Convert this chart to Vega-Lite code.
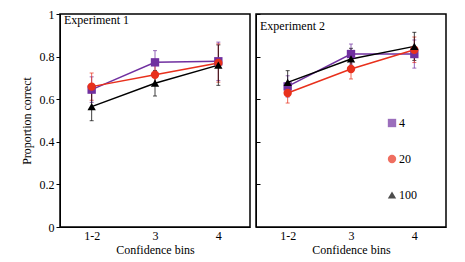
{
  "$schema": "https://vega.github.io/schema/vega-lite/v6.json",
  "padding": {"left": 19, "top": 7, "right": 2, "bottom": 2},
  "datasets": {
    "d": [
      {"exp": 1, "bin": "1-2", "n": "4", "p": 0.645, "se": 0.06},
      {"exp": 1, "bin": "3", "n": "4", "p": 0.773, "se": 0.055},
      {"exp": 1, "bin": "4", "n": "4", "p": 0.778, "se": 0.09},
      {"exp": 1, "bin": "1-2", "n": "20", "p": 0.659, "se": 0.064},
      {"exp": 1, "bin": "3", "n": "20", "p": 0.715, "se": 0.05},
      {"exp": 1, "bin": "4", "n": "20", "p": 0.77, "se": 0.09},
      {"exp": 1, "bin": "1-2", "n": "100", "p": 0.565, "se": 0.066},
      {"exp": 1, "bin": "3", "n": "100", "p": 0.675, "se": 0.06},
      {"exp": 1, "bin": "4", "n": "100", "p": 0.76, "se": 0.095},
      {"exp": 2, "bin": "1-2", "n": "4", "p": 0.66, "se": 0.05},
      {"exp": 2, "bin": "3", "n": "4", "p": 0.812, "se": 0.047},
      {"exp": 2, "bin": "4", "n": "4", "p": 0.812, "se": 0.066},
      {"exp": 2, "bin": "1-2", "n": "20", "p": 0.629, "se": 0.047},
      {"exp": 2, "bin": "3", "n": "20", "p": 0.742, "se": 0.047},
      {"exp": 2, "bin": "4", "n": "20", "p": 0.832, "se": 0.06},
      {"exp": 2, "bin": "1-2", "n": "100", "p": 0.679, "se": 0.055},
      {"exp": 2, "bin": "3", "n": "100", "p": 0.789, "se": 0.05},
      {"exp": 2, "bin": "4", "n": "100", "p": 0.848, "se": 0.066}
    ]
  },
  "data": {"name": "d"},
  "spacing": 3,
  "resolve": {"scale": {"color": "shared", "shape": "shared"}},
  "hconcat": [
    {
      "width": 190,
      "height": 213,
      "title": {"text": "Experiment 1", "anchor": "start", "orient": "top", "frame": "group", "offset": -19, "dx": 4},
      "transform": [{"filter": "datum.exp == 1"}],
      "encoding": {
        "x": {"field": "bin", "type": "ordinal", "sort": ["1-2", "3", "4"], "scale": {"type": "point", "padding": 0.5}, "axis": {"title": "Confidence bins", "labelAngle": 0, "ticks": false, "labelPadding": 3, "titlePadding": 3}},
        "y": {"field": "p", "type": "quantitative", "scale": {"domain": [0, 1], "nice": false}, "axis": {"title": "Proportion correct", "values": [0, 0.2, 0.4, 0.6, 0.8, 1], "format": "~g", "tickSize": 4, "titlePadding": 6}},
        "color": {"field": "n", "type": "nominal", "scale": {"domain": ["4", "20", "100"], "range": ["#7030A0", "#E8301C", "#000000"]}}
      },
      "layer": [
        {"mark": {"type": "errorbar", "ticks": {"size": 4}, "rule": {"opacity": 0.75, "strokeWidth": 1}}, "encoding": {"yError": {"field": "se"}}},
        {"mark": {"type": "line", "strokeWidth": 1.5}},
        {"mark": {"type": "point", "filled": true, "opacity": 1, "size": 70},
         "encoding": {"shape": {"field": "n", "type": "nominal", "scale": {"domain": ["4", "20", "100"], "range": ["square", "circle", "triangle-up"]}}}}
      ]
    },
    {
      "width": 190,
      "height": 213,
      "title": {"text": "Experiment 2", "anchor": "start", "orient": "top", "frame": "group", "offset": -19, "dx": 4},
      "transform": [{"filter": "datum.exp == 2"}],
      "encoding": {
        "x": {"field": "bin", "type": "ordinal", "sort": ["1-2", "3", "4"], "scale": {"type": "point", "padding": 0.5}, "axis": {"title": "Confidence bins", "labelAngle": 0, "ticks": false, "labelPadding": 3, "titlePadding": 3}},
        "y": {"field": "p", "type": "quantitative", "scale": {"domain": [0, 1], "nice": false}, "axis": {"title": null, "values": [0, 0.2, 0.4, 0.6, 0.8, 1], "labels": false, "tickSize": -4}},
        "color": {"field": "n", "type": "nominal", "scale": {"domain": ["4", "20", "100"], "range": ["#7030A0", "#E8301C", "#000000"]}}
      },
      "layer": [
        {"mark": {"type": "errorbar", "ticks": {"size": 4}, "rule": {"opacity": 0.75, "strokeWidth": 1}}, "encoding": {"yError": {"field": "se"}}},
        {"mark": {"type": "line", "strokeWidth": 1.5}},
        {"mark": {"type": "point", "filled": true, "opacity": 1, "size": 70},
         "encoding": {"shape": {"field": "n", "type": "nominal", "scale": {"domain": ["4", "20", "100"], "range": ["square", "circle", "triangle-up"]}}}}
      ]
    }
  ],
  "config": {
    "font": "Times New Roman, Liberation Serif, DejaVu Serif, serif",
    "view": {"stroke": "#000", "strokeWidth": 1.5},
    "title": {"font": "Times New Roman, Liberation Serif, DejaVu Serif, serif", "fontSize": 12, "fontWeight": "normal", "color": "#000"},
    "legend": {"orient": "none", "legendX": 326, "legendY": 103, "title": null, "rowPadding": 24, "symbolSize": 70, "labelOffset": 1, "labelFont": "Times New Roman, Liberation Serif, DejaVu Serif, serif", "labelFontSize": 12, "labelColor": "#000", "symbolStrokeWidth": 0},
    "axis": {"labelFont": "Times New Roman, Liberation Serif, DejaVu Serif, serif", "titleFont": "Times New Roman, Liberation Serif, DejaVu Serif, serif", "labelFontSize": 12, "titleFontSize": 12, "titleFontWeight": "normal", "labelColor": "#000", "titleColor": "#000", "domainColor": "#000", "tickColor": "#000", "grid": false}
  }
}
